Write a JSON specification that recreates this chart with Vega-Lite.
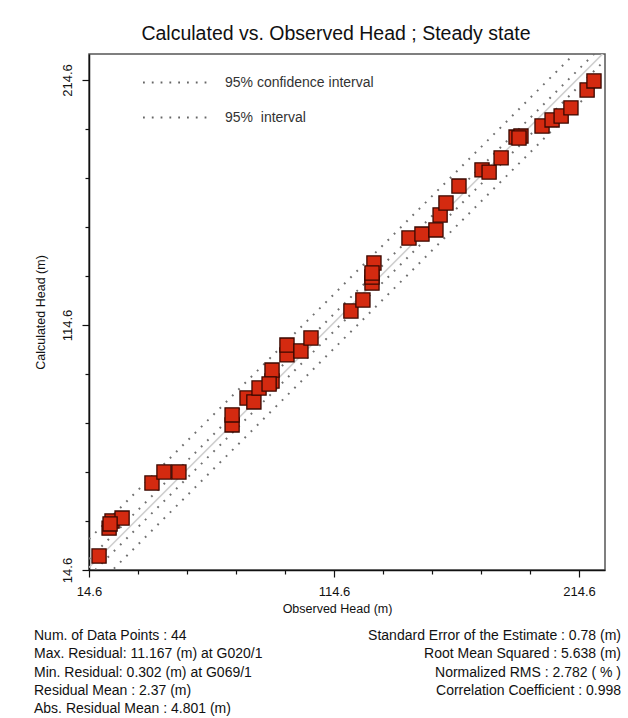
{
  "$schema": "https://vega.github.io/schema/vega-lite/v6.json",
  "background": "white",
  "padding": {"left": 33, "top": 22, "right": 4, "bottom": 4},
  "spacing": 13,
  "datasets": {
    "points": [
      {"observed": 18.7, "calculated": 20.3},
      {"observed": 22.8, "calculated": 31.7},
      {"observed": 24.0, "calculated": 34.6},
      {"observed": 28.1, "calculated": 35.8},
      {"observed": 40.3, "calculated": 50.1},
      {"observed": 45.2, "calculated": 54.6},
      {"observed": 51.3, "calculated": 54.6},
      {"observed": 73.0, "calculated": 73.8},
      {"observed": 73.0, "calculated": 77.9},
      {"observed": 79.1, "calculated": 84.8},
      {"observed": 81.9, "calculated": 83.2},
      {"observed": 84.0, "calculated": 88.9},
      {"observed": 89.3, "calculated": 91.7},
      {"observed": 89.3, "calculated": 96.2},
      {"observed": 95.4, "calculated": 102.4},
      {"observed": 95.4, "calculated": 106.4},
      {"observed": 101.1, "calculated": 104.0},
      {"observed": 105.2, "calculated": 109.3},
      {"observed": 121.5, "calculated": 120.3},
      {"observed": 126.4, "calculated": 124.8},
      {"observed": 130.1, "calculated": 131.7},
      {"observed": 130.1, "calculated": 134.2},
      {"observed": 130.9, "calculated": 139.9},
      {"observed": 145.2, "calculated": 150.1},
      {"observed": 150.5, "calculated": 151.7},
      {"observed": 156.2, "calculated": 153.4},
      {"observed": 157.9, "calculated": 159.5},
      {"observed": 160.3, "calculated": 164.4},
      {"observed": 165.6, "calculated": 171.3},
      {"observed": 175.0, "calculated": 177.9},
      {"observed": 177.9, "calculated": 177.0},
      {"observed": 182.8, "calculated": 182.8},
      {"observed": 188.9, "calculated": 191.3},
      {"observed": 190.9, "calculated": 191.7},
      {"observed": 199.5, "calculated": 195.8},
      {"observed": 203.6, "calculated": 198.3},
      {"observed": 207.3, "calculated": 199.9},
      {"observed": 211.3, "calculated": 203.2},
      {"observed": 217.9, "calculated": 210.5},
      {"observed": 220.7, "calculated": 214.2},
      {"observed": 23.2, "calculated": 33.4},
      {"observed": 88.1, "calculated": 90.5},
      {"observed": 130.1, "calculated": 135.8},
      {"observed": 190.1, "calculated": 190.9}
    ],
    "bands": [
      {"line": "outer_upper", "kind": "95%\u00a0 interval", "observed": 14.6, "calculated": 27.2},
      {"line": "outer_upper", "kind": "95%\u00a0 interval", "observed": 225.2, "calculated": 237.8},
      {"line": "outer_lower", "kind": "95%\u00a0 interval", "observed": 14.6, "calculated": 5.0},
      {"line": "outer_lower", "kind": "95%\u00a0 interval", "observed": 225.2, "calculated": 215.6},
      {"line": "inner_upper", "kind": "95% confidence interval", "observed": 14.6, "calculated": 19.1},
      {"line": "inner_upper", "kind": "95% confidence interval", "observed": 225.2, "calculated": 229.7},
      {"line": "inner_lower", "kind": "95% confidence interval", "observed": 14.6, "calculated": 12.1},
      {"line": "inner_lower", "kind": "95% confidence interval", "observed": 225.2, "calculated": 222.7}
    ],
    "fit": [
      {"observed": 14.6, "calculated": 15.6},
      {"observed": 225.2, "calculated": 226.2}
    ],
    "stats": [
      {"side": "left", "row": 1, "text": "Num. of Data Points : 44"},
      {"side": "left", "row": 2, "text": "Max. Residual: 11.167 (m) at G020/1"},
      {"side": "left", "row": 3, "text": "Min. Residual: 0.302 (m) at G069/1"},
      {"side": "left", "row": 4, "text": "Residual Mean : 2.37 (m)"},
      {"side": "left", "row": 5, "text": "Abs. Residual Mean : 4.801 (m)"},
      {"side": "right", "row": 1, "text": "Standard Error of the Estimate : 0.78 (m)"},
      {"side": "right", "row": 2, "text": "Root Mean Squared : 5.638 (m)"},
      {"side": "right", "row": 3, "text": "Normalized RMS : 2.782 ( % )"},
      {"side": "right", "row": 4, "text": "Correlation Coefficient : 0.998"}
    ]
  },
  "vconcat": [
    {
      "width": 516,
      "height": 516,
      "title": {
        "text": "Calculated vs. Observed Head ; Steady state",
        "fontSize": 19.5,
        "font": "Liberation Sans",
        "fontWeight": "normal",
        "color": "#111111",
        "anchor": "middle",
        "offset": 10,
        "dx": -11
      },
      "encoding": {
        "x": {
          "field": "observed",
          "type": "quantitative",
          "scale": {"domain": [14.6, 225.2], "nice": false, "zero": false},
          "axis": {
            "title": "Observed Head (m)",
            "values": [14.6, 34.6, 54.6, 74.6, 94.6, 114.6, 134.6, 154.6, 174.6, 194.6, 214.6],
            "labelExpr": "round((datum.value - 14.6) / 20) % 5 == 0 ? format(datum.value, '.1f') : ''",
            "tickSize": {"condition": {"test": "round((datum.value - 14.6) / 20) % 5 == 0", "value": 7}, "value": 4},
            "labelFlush": false,
            "grid": false,
            "titleX": 248
          }
        },
        "y": {
          "field": "calculated",
          "type": "quantitative",
          "scale": {"domain": [14.6, 225.2], "nice": false, "zero": false},
          "axis": {
            "title": "Calculated Head (m)",
            "values": [14.6, 34.6, 54.6, 74.6, 94.6, 114.6, 134.6, 154.6, 174.6, 194.6, 214.6],
            "labelExpr": "round((datum.value - 14.6) / 20) % 5 == 0 ? format(datum.value, '.1f') : ''",
            "tickSize": {"condition": {"test": "round((datum.value - 14.6) / 20) % 5 == 0", "value": 7}, "value": 4},
            "labelAngle": -90,
            "labelFlush": false,
            "grid": false
          }
        }
      },
      "layer": [
        {
          "data": {"name": "fit"},
          "mark": {"type": "line", "clip": true, "color": "#cfcfcf", "strokeWidth": 1.6}
        },
        {
          "data": {"name": "bands"},
          "mark": {"type": "line", "clip": true, "color": "#707070", "strokeWidth": 2},
          "encoding": {
            "detail": {"field": "line", "type": "nominal"},
            "strokeDash": {
              "field": "kind",
              "type": "nominal",
              "scale": {
                "domain": ["95% confidence interval", "95%\u00a0 interval"],
                "range": [[1.8, 7], [1.8, 7]]
              },
              "legend": {
                "title": null,
                "orient": "none",
                "legendX": 69,
                "legendY": 11,
                "symbolType": "M-2,0H2",
                "symbolSize": 1056,
                "symbolStrokeColor": "#666666",
                "symbolStrokeWidth": 1.8,
                "labelFontSize": 14,
                "labelFont": "Liberation Sans",
                "labelColor": "#333333",
                "labelOffset": 32,
                "rowPadding": 10
              }
            }
          }
        },
        {
          "data": {"name": "points"},
          "mark": {"type": "square", "size": 200, "filled": true, "fill": "#d42a10", "stroke": "#3a0800", "strokeWidth": 1.3, "opacity": 1}
        }
      ]
    },
    {
      "width": 532,
      "height": 73,
      "view": {"stroke": null},
      "data": {"name": "stats"},
      "encoding": {
        "x": {"field": "side", "type": "nominal", "scale": {"type": "point", "domain": ["left", "right"], "padding": 0}, "axis": null},
        "y": {"field": "row", "type": "ordinal", "scale": {"type": "point", "padding": 0}, "axis": null},
        "text": {"field": "text", "type": "nominal"}
      },
      "layer": [
        {
          "transform": [{"filter": "datum.side == 'left'"}],
          "mark": {"type": "text", "align": "left", "baseline": "middle", "dx": -55, "font": "Liberation Sans", "fontSize": 14, "color": "#111111"}
        },
        {
          "transform": [{"filter": "datum.side == 'right'"}],
          "mark": {"type": "text", "align": "right", "baseline": "middle", "font": "Liberation Sans", "fontSize": 14, "color": "#111111"}
        }
      ]
    }
  ],
  "config": {
    "font": "Liberation Sans",
    "view": {"stroke": "#555555", "strokeWidth": 1.5},
    "axis": {
      "domainColor": "#111111",
      "domainWidth": 1.5,
      "tickColor": "#111111",
      "tickWidth": 1.2,
      "labelFont": "Liberation Sans",
      "labelFontSize": 13,
      "labelColor": "#111111",
      "labelPadding": 8,
      "titleFont": "Liberation Sans",
      "titleFontSize": 12.5,
      "titleFontWeight": "normal",
      "titleColor": "#111111"
    },
    "axisX": {"titlePadding": 4},
    "axisY": {"titlePadding": 14}
  }
}
